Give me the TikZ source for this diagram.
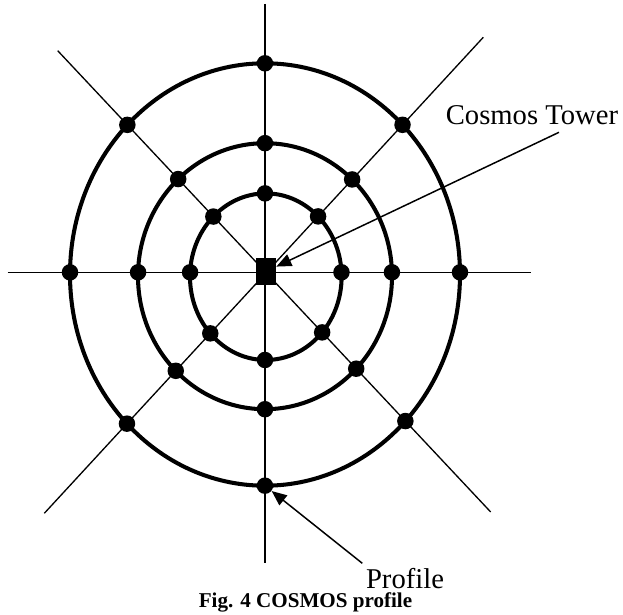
\documentclass[tikz,border=0pt]{standalone}
\usepackage{fontspec}
\setmainfont{Liberation Serif}
\usetikzlibrary{arrows.meta,intersections}

\begin{document}
\begin{tikzpicture}[
  x=0.02cm, y=-0.02cm,
  >={Triangle[length=3mm,width=2.5mm]},
  spoke/.style={line width=0.75pt, black},
  ring/.style={line width=2.3pt, black},
  station/.style={circle, fill=black, inner sep=0pt, minimum size=3.3mm},
  tower/.style={rectangle, fill=black, inner sep=0pt,
                minimum width=4mm, minimum height=5.6mm},
  callout/.style={font=\fontsize{16.3}{18}\selectfont, inner sep=0pt,
                anchor=base west},
  caption/.style={font=\fontsize{12}{14}\selectfont\bfseries, inner sep=0pt,
                anchor=base},
  pointer/.style={->, line width=0.85pt, black}]

\useasboundingbox (0,0) rectangle (623,615);

%% ---- profile lines through the tower ----
\draw[spoke, name path=vline] (265,4) -- (265,563);
\draw[spoke, name path=hline] (7.7,272.3) -- (531,272.3);
\draw[spoke, name path=dlineA] (57.7,50.7) -- (490.7,512);
\draw[spoke, name path=dlineB] (483.3,37.3) -- (44.3,513.3);

%% ---- the three rings ----
\draw[ring, name path=ring1] (265.8,276.7) ellipse [x radius=75.8, y radius=83.3];
\draw[ring, name path=ring2] (265,276.2) ellipse [x radius=127, y radius=133];
\draw[ring, name path=ring3] (265,274.5) ellipse [x radius=195, y radius=211.2];

% stations where each line cuts each ring
\foreach \r in {ring1,ring2,ring3}
  \foreach \l in {vline,hline,dlineA,dlineB} {
    \path[name intersections={of={\r} and {\l}, name=cut, sort by=\l}];
    \node[station] (dot-\r-\l-1) at (cut-1) {};
    \node[station] (dot-\r-\l-2) at (cut-2) {};
  }

\node[tower] (tower) at (266,271.5) {};

%% ---- labels ----
\node[callout] (towertext) at (445.5,125) {Cosmos Tower};
\coordinate (towertail) at (559,132.3);
\draw[pointer] (towertail) -- (tower);

\node[callout] (profiletext) at (365.7,588) {Profile};
\coordinate (profiletail) at (362.3,563.3);
\draw[pointer] (profiletail) -- (dot-ring3-vline-1);

\node[caption] (caption) at (305.5,607) {Fig. 4 COSMOS profile};
\end{tikzpicture}
\end{document}
